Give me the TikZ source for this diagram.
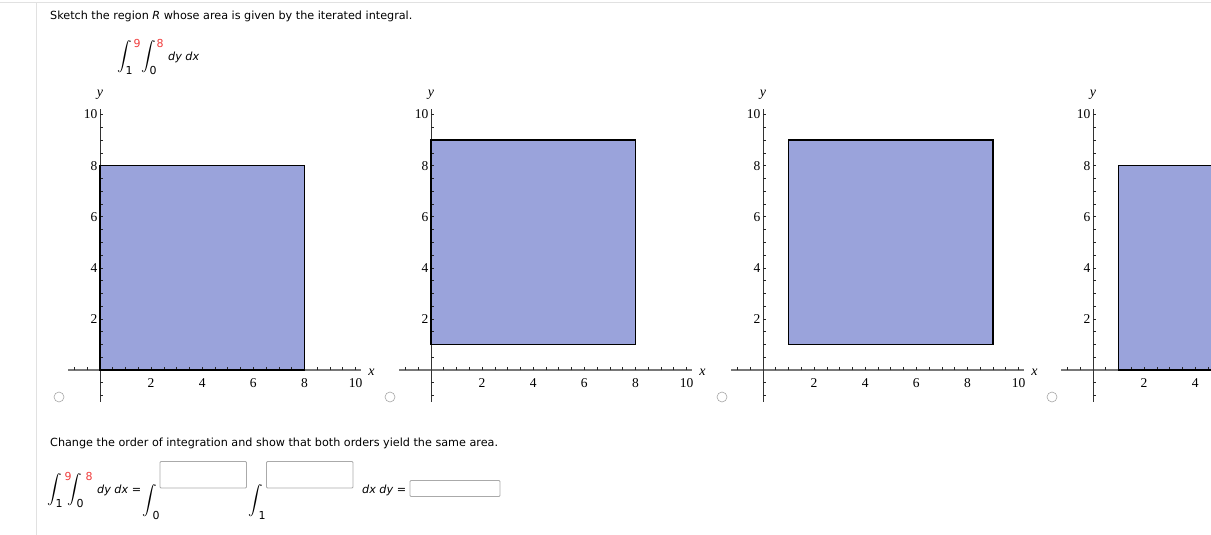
\documentclass[tikz,border=0pt]{standalone}
\usepackage{fontspec}
\setmainfont{DejaVu Sans}
\newfontfamily\tickfont{Liberation Serif}
\definecolor{regionfill}{RGB}{154,163,219}
\definecolor{limred}{RGB}{240,60,60}
\definecolor{framegray}{RGB}{225,225,225}
\definecolor{boxgray}{RGB}{170,170,170}
\definecolor{axisgray}{RGB}{120,120,120}
\tikzset{
  txt/.style={inner sep=0pt, anchor=west, font=\fontsize{11.2}{13}\selectfont},
  intsign/.style={inner sep=0pt, scale=1.45},
  uplim/.style={inner sep=0pt, text=limred, font=\fontsize{11}{12}\selectfont},
  lowlim/.style={inner sep=0pt, font=\fontsize{11}{12}\selectfont},
  ansbox/.style={draw=boxgray, line width=0.8pt, rounded corners=1pt},
  radio/.style={draw=gray!70, line width=0.6pt},
  ticklab/.style={inner sep=0pt, font=\tickfont\fontsize{13.5}{14}\selectfont},
  axlab/.style={inner sep=0pt, font=\tickfont\itshape\fontsize{14}{14}\selectfont},
}
\begin{document}
\begin{tikzpicture}[x=1pt,y=-1pt]
\useasboundingbox (0,0) rectangle (1211,535);
\clip (0,0) rectangle (1211,535);
% page frame lines
\draw[framegray, line width=1pt] (0,3) -- (1211,3);
\draw[framegray, line width=1pt] (36,3) -- (36,535);

% heading
\node[txt] (q1) at (50,16) {Sketch the region \textit{R} whose area is given by the iterated integral.};
\node[intsign] (i1) at (125,57) {$\displaystyle\int$};
\node[intsign] (i2) at (149,57) {$\displaystyle\int$};
\node[uplim] (u1) at (137,43) {9};
\node[uplim] (u2) at (160,43) {8};
\node[lowlim] (l1) at (129,70) {1};
\node[lowlim] (l2) at (153,70) {0};
\node[txt] (d1) at (168,57) {\textit{dy dx}};

% panels
\foreach \ox/\xa/\xb/\ya/\yb/\r/\labs in {100/0/8/0/8/1/{2,4,6,8,10}, 431/0/8/1/9/2/{2,4,6,8,10}, 763/1/9/1/9/3/{2,4,6,8,10}, 1093/1/9/0/8/4/{2,4}}{
  \node[radio, circle, minimum size=10pt, inner sep=0pt] (radio\r) at (\ox-41,397) {};
  \begin{scope}[shift={(\ox,370)}, x=25.55pt, y=25.55pt]
    \fill[regionfill] (\xa,\ya) rectangle (\xb,\yb);
    \draw[axisgray, line width=1.3pt] (-1.25,0) -- (10.2,0);
    \draw[black!80, line width=0.8pt] (0,-1.25) -- (0,10.2);
    \foreach \t in {-1,-0.5,0.5,1,1.5,2,2.5,3,3.5,4,4.5,5,5.5,6,6.5,7,7.5,8,8.5,9,9.5,10}{
      \draw[black!85, line width=0.6pt] (\t,0) -- ++(0,3pt);
      \draw[black!85, line width=0.6pt] (0,\t) -- ++(3pt,0);
    }
    \draw[black, line width=1.3pt] (\xa,\ya) rectangle (\xb,\yb);
    \foreach \t in \labs{
      \node[ticklab] at ([yshift=-13.5pt]\t,0) {\t};
    }
    \foreach \t in {2,4,6,8,10}{
      \node[ticklab, anchor=east] at ([xshift=-2.5pt]0,\t) {\t};
    }
    \ifnum\r<4
      \node[axlab] (xl\r) at (10.63,-0.1) {x};
    \fi
    \node[axlab] (yl\r) at (0,10.76) {y};
  \end{scope}
}

% second part
\node[txt] (q2) at (50,443) {Change the order of integration and show that both orders yield the same area.};
\node[intsign] (ia) at (55,490) {$\displaystyle\int$};
\node[intsign] (ib) at (75,490) {$\displaystyle\int$};
\node[uplim] (ua) at (68,476) {9};
\node[uplim] (ub) at (89,476) {8};
\node[lowlim] (la) at (59,503) {1};
\node[lowlim] (lb) at (80,503) {0};
\node[txt] (d2) at (97,490) {\textit{dy dx} =};
\node[intsign] (ic) at (150,501) {$\displaystyle\int$};
\node[lowlim] (lc) at (156,515) {0};
\draw[ansbox] (160,461.5) rectangle (246.5,488);
\node[intsign] (id) at (256,501) {$\displaystyle\int$};
\node[lowlim] (ld) at (262,515) {1};
\draw[ansbox] (266.5,461.5) rectangle (353,488);
\node[txt] (d3) at (362,490) {\textit{dx dy} =};
\draw[ansbox] (410,480.5) rectangle (500,496.5);
\end{tikzpicture}
\end{document}
